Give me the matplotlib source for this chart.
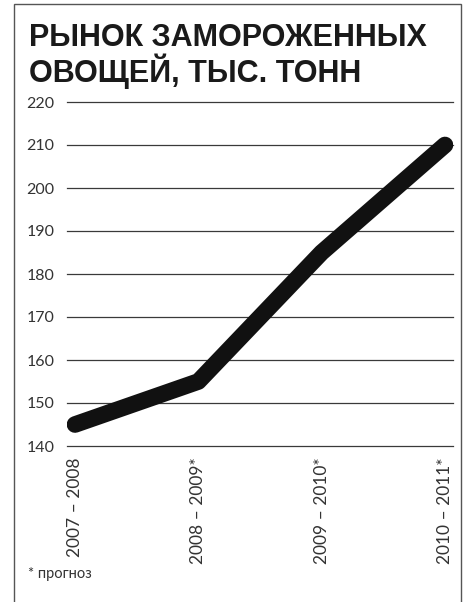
import matplotlib
matplotlib.use("Agg")
import matplotlib.pyplot as plt
from matplotlib.patches import Rectangle

categories = ["2007 – 2008", "2008 – 2009*", "2009 – 2010*", "2010 – 2011*"]
values = [145, 155, 185, 210]
yticks = [140, 150, 160, 170, 180, 190, 200, 210, 220]
title = "РЫНОК ЗАМОРОЖЕННЫХ\nОВОЩЕЙ, ТЫС. ТОНН"
footnote = "* прогноз"

W, H = 471, 602
fig = plt.figure(figsize=(W / 100, H / 100), dpi=100)
fig.patch.set_facecolor("white")

ax = fig.add_axes([67 / W, 1 - 446 / H, (453 - 67) / W, (446 - 102) / H])
ax.set_facecolor("none")
ax.set_xlim(-0.065, 3.065)
ax.set_ylim(140, 220)
for y in yticks:
    ax.axhline(y, color="#3a3a3a", lw=0.9, zorder=1, clip_on=False)
ax.plot(range(len(values)), values, color="#111111", lw=12,
        solid_capstyle="round", solid_joinstyle="round", zorder=3)

ax.set_yticks(yticks)
ax.set_yticklabels([str(v) for v in yticks], fontsize=11.5, color="#333333",
                   family=["Lato", "DejaVu Sans"])
ax.set_xticks(range(len(categories)))
ax.set_xticklabels(categories, rotation=90, fontsize=12.5, color="#333333",
                   family=["Lato", "DejaVu Sans"], va="top", ha="center")
ax.tick_params(axis="both", length=0)
ax.tick_params(axis="y", pad=9)
ax.tick_params(axis="x", pad=8)
for s in ax.spines.values():
    s.set_visible(False)

fig.text(29 / W, 1 - 23 / H, title, fontsize=22, fontweight="bold",
         family=["Liberation Sans", "DejaVu Sans"], color="#1a1a1a",
         va="top", ha="left", linespacing=1.02)
fig.text(28 / W, 1 - 578 / H, footnote, fontsize=10.5, color="#333333",
         family=["Lato", "DejaVu Sans"], va="baseline", ha="left")

fig.patches.append(Rectangle((14 / W, -0.05), (461 - 14) / W, 1.05 - 4 / H,
                             transform=fig.transFigure, fill=False,
                             edgecolor="#555555", lw=1.0))

fig.savefig("out.png", dpi=100)
